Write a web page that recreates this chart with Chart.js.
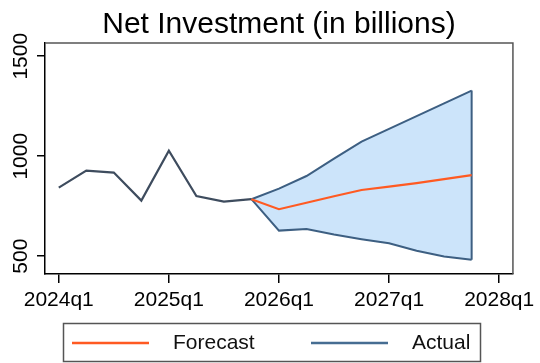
<!DOCTYPE html>
<html>
<head>
<meta charset="utf-8">
<script src="https://cdn.jsdelivr.net/npm/chart.js@4/dist/chart.umd.min.js"></script>
<style>
  html, body { margin: 0; padding: 0; background: #fff; }
  #wrap { width: 540px; height: 363px; }
</style>
</head>
<body>
<div id="wrap"><canvas id="chart" width="540" height="363"></canvas></div>
<script>
// Net Investment forecast — quarterly, billions
const quarters = [
  '2024q1', '2024q2', '2024q3', '2024q4',
  '2025q1', '2025q2', '2025q3', '2025q4',
  '2026q1', '2026q2', '2026q3', '2026q4',
  '2027q1', '2027q2', '2027q3', '2027q4',
];
const actual   = [843, 928, 918, 778, 1027, 801, 773, 785, null, null, null, null, null, null, null, null];
const forecast = [null, null, null, null, null, null, null, 785, 735, 767, 800, 831, 848, 865, 885, 905];
const upper    = [null, null, null, null, null, null, null, 785, 838, 901, 988, 1073, 1137, 1200, 1264, 1328];
const lower    = [null, null, null, null, null, null, null, 785, 628, 636, 608, 585, 565, 527, 498, 482];

const xTickLabels = ['2024q1', '2025q1', '2026q1', '2027q1', '2028q1'];
const xTickPos    = [0, 4, 8, 12, 16];
const yTicks      = [500, 1000, 1500];

const FONT = '"Liberation Sans", Arial, sans-serif';
const BAND_LINE = '#3d5f82';

const toPts = arr => arr.map((v, i) => ({ x: i, y: v })).filter(p => p.y !== null);
const last = arr => arr.length - 1;

// Stata-ish frame, vertical y labels, bordered legend
const framePlugin = {
  id: 'frame',
  afterDraw(chart) {
    const { ctx, chartArea: a } = chart;
    const ys = chart.scales.y;
    ctx.save();
    ctx.strokeStyle = '#555';
    ctx.lineWidth = 1.5;
    ctx.beginPath();
    ctx.moveTo(a.left, a.top);
    ctx.lineTo(a.right, a.top);
    ctx.lineTo(a.right, a.bottom);
    ctx.stroke();

    // y tick labels, reading bottom to top
    ctx.font = '21px ' + FONT;
    ctx.fillStyle = '#000';
    ctx.textAlign = 'center';
    ctx.textBaseline = 'middle';
    yTicks.forEach(v => {
      ctx.save();
      ctx.translate(20, ys.getPixelForValue(v));
      ctx.rotate(-Math.PI / 2);
      ctx.fillText(String(v), 0, 1);
      ctx.restore();
    });

    // legend
    const items = [
      { label: 'Forecast', color: '#ff5a22', x: 72 },
      { label: 'Actual', color: '#466d92', x: 311 },
    ];
    ctx.strokeStyle = '#555';
    ctx.lineWidth = 1.5;
    ctx.strokeRect(63.5, 323.5, 417, 38);
    ctx.font = '21px ' + FONT;
    ctx.textAlign = 'left';
    ctx.fillStyle = '#111';
    items.forEach(it => {
      ctx.strokeStyle = it.color;
      ctx.lineWidth = 2.5;
      ctx.beginPath();
      ctx.moveTo(it.x, 343);
      ctx.lineTo(it.x + 77, 343);
      ctx.stroke();
      ctx.fillText(it.label, it.x + 101, 343);
    });
    ctx.restore();
  },
};

new Chart(document.getElementById('chart').getContext('2d'), {
  type: 'line',
  data: {
    datasets: [
      {
        label: 'Upper',
        data: toPts(upper),
        borderColor: BAND_LINE,
        backgroundColor: '#cce4fa',
        borderWidth: 2,
        pointRadius: 0,
        fill: '+1',
        order: 5,
      },
      {
        label: 'Lower',
        data: toPts(lower),
        borderColor: BAND_LINE,
        borderWidth: 2,
        pointRadius: 0,
        fill: false,
        order: 4,
      },
      {
        label: 'Band edge',
        data: [
          { x: last(upper), y: upper[last(upper)] },
          { x: last(lower), y: lower[last(lower)] },
        ],
        borderColor: BAND_LINE,
        borderWidth: 2,
        pointRadius: 0,
        fill: false,
        order: 3,
      },
      {
        label: 'Actual',
        data: toPts(actual),
        borderColor: '#3e4c5e',
        borderWidth: 2.2,
        pointRadius: 0,
        fill: false,
        order: 2,
      },
      {
        label: 'Forecast',
        data: toPts(forecast),
        borderColor: '#ff5a22',
        borderWidth: 2.2,
        pointRadius: 0,
        fill: false,
        order: 1,
      },
    ],
  },
  options: {
    responsive: false,
    animation: false,
    layout: { padding: { left: 0, right: 25, top: 0, bottom: 48 } },
    plugins: {
      legend: { display: false },
      tooltip: { enabled: false },
      title: {
        display: true,
        text: 'Net Investment (in billions)',
        fullSize: false,
        color: '#000',
        font: { family: FONT, size: 30, weight: 'normal', lineHeight: 1.15 },
        padding: { top: 7, bottom: 1.5 },
      },
    },
    scales: {
      x: {
        type: 'linear',
        min: -0.5,
        max: 16.5,
        afterBuildTicks: s => { s.ticks = xTickPos.map(v => ({ value: v })); },
        afterFit: s => { s.height = 41; },
        ticks: {
          callback: v => xTickLabels[xTickPos.indexOf(v)],
          color: '#000',
          font: { family: FONT, size: 21 },
          padding: 5,
          maxRotation: 0,
        },
        grid: { drawOnChartArea: false, drawTicks: true, tickLength: 9, color: '#000', lineWidth: 1.5 },
        border: { color: '#000', width: 1.5 },
      },
      y: {
        min: 411,
        max: 1566,
        afterBuildTicks: s => { s.ticks = yTicks.map(v => ({ value: v })); },
        afterFit: s => { s.width = 45; },
        ticks: { display: false },
        grid: { drawOnChartArea: false, drawTicks: true, tickLength: 8, color: '#000', lineWidth: 1.5 },
        border: { color: '#000', width: 1.5 },
      },
    },
  },
  plugins: [framePlugin],
});
</script>
</body>
</html>
